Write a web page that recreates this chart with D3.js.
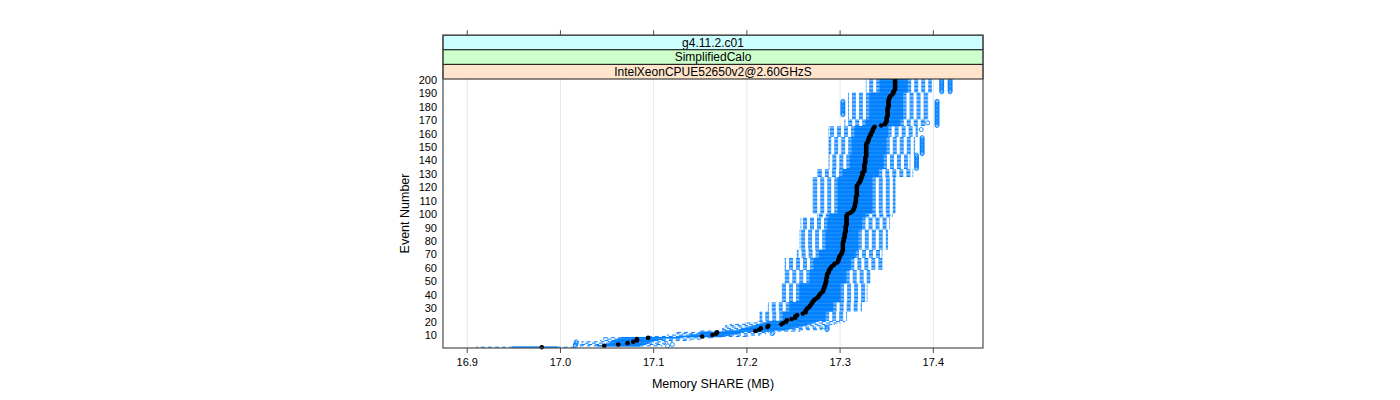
<!DOCTYPE html>
<html>
<head>
<meta charset="utf-8">
<script src="https://cdn.jsdelivr.net/npm/d3@7"></script>
<style>
  body { margin: 0; background: #fff; }
  text { font-family: "Liberation Sans", Arial, sans-serif; fill: #000; }
</style>
</head>
<body>
<svg></svg>
<script>
const dims = { width: 1400, height: 400 }

// strips, outermost first
const stripLabels = ['g4.11.2.c01', 'SimplifiedCalo', 'IntelXeonCPUE52650v2@2.60GHzS']
const stripColors = ['#ccffff', '#ccffcc', '#ffe5cc']

const xTicks = [16.9, 17.0, 17.1, 17.2, 17.3, 17.4]
const yTicks = [10, 20, 30, 40, 50, 60, 70, 80, 90, 100, 110, 120, 130, 140, 150, 160, 170, 180, 190, 200]
const events = d3.range(1, 201)

// median memory share per event (MB)
const medians = [
  16.980, 17.047, 17.062, 17.072, 17.078, 17.082, 17.082, 17.094, 17.152, 17.163,
  17.167, 17.168, 17.209, 17.213, 17.215, 17.222, 17.223, 17.237, 17.239, 17.242,
  17.243, 17.248, 17.252, 17.252, 17.254, 17.260, 17.263, 17.263, 17.264, 17.265,
  17.267, 17.268, 17.269, 17.270, 17.271, 17.272, 17.274, 17.276, 17.277, 17.278,
  17.279, 17.281, 17.282, 17.282, 17.283, 17.283, 17.284, 17.284, 17.285, 17.285,
  17.285, 17.285, 17.286, 17.286, 17.286, 17.287, 17.288, 17.288, 17.289, 17.290,
  17.291, 17.293, 17.294, 17.297, 17.298, 17.298, 17.299, 17.299, 17.300, 17.301,
  17.302, 17.302, 17.303, 17.303, 17.303, 17.303, 17.303, 17.303, 17.303, 17.304,
  17.304, 17.304, 17.305, 17.305, 17.305, 17.305, 17.306, 17.306, 17.306, 17.306,
  17.306, 17.307, 17.307, 17.307, 17.307, 17.307, 17.307, 17.307, 17.307, 17.308,
  17.311, 17.313, 17.314, 17.315, 17.315, 17.316, 17.316, 17.316, 17.317, 17.317,
  17.317, 17.317, 17.317, 17.318, 17.318, 17.318, 17.318, 17.318, 17.318, 17.318,
  17.318, 17.319, 17.320, 17.321, 17.322, 17.322, 17.323, 17.323, 17.324, 17.324,
  17.324, 17.326, 17.326, 17.326, 17.326, 17.326, 17.326, 17.327, 17.327, 17.327,
  17.327, 17.327, 17.328, 17.328, 17.328, 17.328, 17.328, 17.328, 17.328, 17.328,
  17.328, 17.328, 17.329, 17.330, 17.330, 17.331, 17.331, 17.332, 17.333, 17.333,
  17.334, 17.335, 17.335, 17.336, 17.337, 17.344, 17.348, 17.349, 17.350, 17.350,
  17.350, 17.350, 17.351, 17.351, 17.351, 17.351, 17.351, 17.351, 17.351, 17.352,
  17.352, 17.352, 17.352, 17.352, 17.352, 17.353, 17.353, 17.354, 17.356, 17.357,
  17.357, 17.358, 17.359, 17.359, 17.359, 17.359, 17.359, 17.359, 17.359, 17.359
]

// box stats: each entry holds from its first event until the next entry
const statFirst = [1, 2, 3, 4, 5, 6, 7, 8, 9, 10, 11, 12, 13, 14, 15, 16, 17, 18, 19, 20,
  21, 28, 35, 49, 59, 68, 74, 89, 98, 101, 128, 134, 145, 158, 166, 171, 191]
const whiskerLow = [16.910, 17.021, 17.021, 17.023, 17.023, 17.043, 17.046, 17.046, 17.096, 17.115,
  17.125, 17.125, 17.150, 17.174, 17.174, 17.177, 17.177, 17.182, 17.198, 17.212,
  17.214, 17.223, 17.238, 17.241, 17.241, 17.254, 17.257, 17.258, 17.276, 17.271,
  17.276, 17.288, 17.288, 17.288, 17.305, 17.309, 17.328]
const boxLow = [16.949, 17.040, 17.049, 17.053, 17.055, 17.059, 17.062, 17.066, 17.128, 17.139,
  17.150, 17.152, 17.177, 17.193, 17.198, 17.203, 17.209, 17.214, 17.219, 17.225,
  17.239, 17.246, 17.257, 17.268, 17.272, 17.278, 17.285, 17.287, 17.289, 17.298,
  17.303, 17.311, 17.313, 17.316, 17.328, 17.332, 17.343]
const boxHigh = [16.996, 17.085, 17.088, 17.094, 17.096, 17.101, 17.109, 17.128, 17.173, 17.182,
  17.189, 17.193, 17.225, 17.241, 17.248, 17.255, 17.260, 17.265, 17.270, 17.273,
  17.284, 17.292, 17.300, 17.306, 17.311, 17.316, 17.319, 17.323, 17.327, 17.334,
  17.341, 17.346, 17.349, 17.351, 17.364, 17.367, 17.372]
const whiskerHigh = [17.014, 17.109, 17.112, 17.115, 17.120, 17.139, 17.150, 17.163, 17.201, 17.214,
  17.220, 17.223, 17.257, 17.280, 17.283, 17.285, 17.289, 17.294, 17.300, 17.305,
  17.307, 17.323, 17.329, 17.332, 17.345, 17.345, 17.351, 17.353, 17.356, 17.359,
  17.378, 17.375, 17.380, 17.383, 17.391, 17.394, 17.398]

// outliers: [first event, last event, value]
const outliers = [
  [2, 3, 17.016], [2, 2, 17.115], [3, 3, 17.120], [4, 5, 17.017],
  [11, 11, 17.227], [12, 12, 17.228], [14, 16, 17.286],
  [134, 144, 17.382], [145, 157, 17.388], [163, 163, 17.387], [168, 168, 17.394],
  [166, 184, 17.404], [174, 184, 17.303], [191, 200, 17.409], [191, 200, 17.418]
]

const panel = { left: 443, right: 983, top: 79, bottom: 348 }
const stripH = 14.6
const blue = '#0080ff'

const svg = d3.select('svg')
  .attr('width', dims.width)
  .attr('height', dims.height)

const x = d3.scaleLinear().domain([16.874, 17.4533]).range([panel.left, panel.right])
const y = d3.scaleLinear().domain([0.4, 200.6]).range([panel.bottom, panel.top])
const step = y(1) - y(2)
const boxH = step / 2

// build per-event stats from the block arrays
const stats = events.map((e, i) => {
  const k = d3.bisectRight(statFirst, e) - 1
  return { e, lo: whiskerLow[k], q1: boxLow[k], med: medians[i], q3: boxHigh[k], hi: whiskerHigh[k] }
})
const outPts = []
outliers.forEach(([a, b, v]) => { for (let e = a; e <= b; e++) outPts.push({ e, v }) })

// grid
svg.append('g').selectAll('line').data(xTicks)
  .enter().append('line')
    .attr('x1', d => x(d)).attr('x2', d => x(d))
    .attr('y1', panel.top).attr('y2', panel.bottom)
    .attr('stroke', '#e6e6e6')

const marks = svg.append('g')

// boxes
marks.selectAll('rect.box').data(stats)
  .enter().append('rect')
    .attr('class', 'box')
    .attr('x', d => x(d.q1))
    .attr('y', d => y(d.e) - boxH / 2)
    .attr('width', d => x(d.q3) - x(d.q1))
    .attr('height', boxH)
    .attr('fill', 'none')
    .attr('stroke', blue)
    .attr('stroke-width', 1)

// whiskers, dashed from the box outwards
const whisk = []
stats.forEach(d => {
  whisk.push({ e: d.e, from: d.q1, to: d.lo })
  whisk.push({ e: d.e, from: d.q3, to: d.hi })
})
marks.selectAll('line.whisk').data(whisk)
  .enter().append('line')
    .attr('class', 'whisk')
    .attr('x1', d => x(d.from)).attr('x2', d => x(d.to))
    .attr('y1', d => y(d.e)).attr('y2', d => y(d.e))
    .attr('stroke', blue)
    .attr('stroke-dasharray', '4,3')

// staples
const staples = []
stats.forEach(d => { staples.push({ e: d.e, v: d.lo }); staples.push({ e: d.e, v: d.hi }) })
marks.selectAll('line.staple').data(staples)
  .enter().append('line')
    .attr('class', 'staple')
    .attr('x1', d => x(d.v)).attr('x2', d => x(d.v))
    .attr('y1', d => y(d.e) - boxH / 2).attr('y2', d => y(d.e) + boxH / 2)
    .attr('stroke', blue)

// outliers
marks.selectAll('circle.out').data(outPts)
  .enter().append('circle')
    .attr('class', 'out')
    .attr('cx', d => x(d.v)).attr('cy', d => y(d.e))
    .attr('r', 2)
    .attr('fill', 'none')
    .attr('stroke', blue)
    .attr('stroke-width', 0.9)

// medians
marks.selectAll('circle.med').data(stats)
  .enter().append('circle')
    .attr('class', 'med')
    .attr('cx', d => x(d.med)).attr('cy', d => y(d.e))
    .attr('r', 2.3)
    .attr('fill', '#000')

// strips
const strips = svg.append('g')
stripLabels.forEach((lab, i) => {
  const top = panel.top - stripH * (stripLabels.length - i)
  strips.append('rect')
    .attr('x', panel.left).attr('y', top)
    .attr('width', panel.right - panel.left).attr('height', stripH)
    .attr('fill', stripColors[i]).attr('stroke', '#1a1a1a').attr('stroke-width', 1)
  strips.append('text')
    .attr('x', (panel.left + panel.right) / 2).attr('y', top + stripH / 2 + 4.3)
    .attr('text-anchor', 'middle')
    .attr('font-size', '12px')
    .text(lab)
})
const stripTop = panel.top - stripH * stripLabels.length

// panel frame
svg.append('rect')
  .attr('x', panel.left).attr('y', stripTop)
  .attr('width', panel.right - panel.left).attr('height', panel.bottom - stripTop)
  .attr('fill', 'none').attr('stroke', '#4d4d4d').attr('stroke-width', 1.2)

// bottom axis
const bottom = svg.append('g')
bottom.selectAll('line').data(xTicks)
  .enter().append('line')
    .attr('x1', d => x(d)).attr('x2', d => x(d))
    .attr('y1', panel.bottom).attr('y2', panel.bottom + 5)
    .attr('stroke', '#4d4d4d')
bottom.selectAll('text').data(xTicks)
  .enter().append('text')
    .attr('x', d => x(d)).attr('y', panel.bottom + 18)
    .attr('text-anchor', 'middle')
    .attr('font-size', '11px')
    .text(d => d3.format('.1f')(d))

// top axis ticks only
svg.append('g').selectAll('line').data(xTicks)
  .enter().append('line')
    .attr('x1', d => x(d)).attr('x2', d => x(d))
    .attr('y1', stripTop).attr('y2', stripTop - 5)
    .attr('stroke', '#4d4d4d')

// left labels
svg.append('g').selectAll('text').data(yTicks)
  .enter().append('text')
    .attr('x', panel.left - 6).attr('y', d => y(d) + 4)
    .attr('text-anchor', 'end')
    .attr('font-size', '11px')
    .text(d => d)

// axis titles
svg.append('text')
  .attr('x', (panel.left + panel.right) / 2).attr('y', 388)
  .attr('text-anchor', 'middle')
  .attr('font-size', '12.5px')
  .text('Memory SHARE (MB)')

svg.append('text')
  .attr('transform', `translate(409, ${(panel.top + panel.bottom) / 2}) rotate(-90)`)
  .attr('text-anchor', 'middle')
  .attr('font-size', '12.5px')
  .text('Event Number')
</script>
</body>
</html>
